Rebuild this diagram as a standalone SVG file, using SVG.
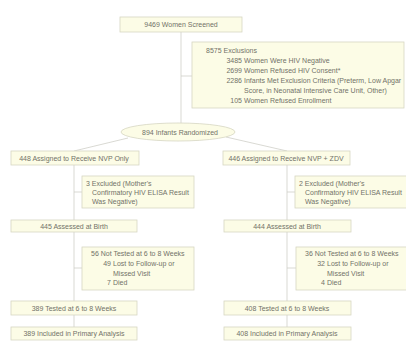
<svg xmlns="http://www.w3.org/2000/svg" width="406" height="341" viewBox="0 0 406 341">
<style>
.box{fill:#fcfce6;stroke:#d6d6c2;stroke-width:0.8}
.ln{stroke:#cfcfc8;stroke-width:0.8;fill:none}
text{font-family:"Liberation Sans",Arial,sans-serif;font-size:7px;fill:#727268}
.c{text-anchor:middle}
.e{text-anchor:end}
</style>
<rect width="406" height="341" fill="#ffffff"/>
<g id="connectors">
<line class="ln" x1="181" y1="32" x2="181" y2="123"/>
<line class="ln" x1="181" y1="76" x2="192" y2="76"/>
<line class="ln" x1="128" y1="138" x2="74" y2="151"/>
<line class="ln" x1="226" y1="137" x2="287" y2="151"/>
<line class="ln" x1="74" y1="165" x2="74" y2="220"/>
<line class="ln" x1="74" y1="192" x2="82" y2="192"/>
<line class="ln" x1="74" y1="232" x2="74" y2="301"/>
<line class="ln" x1="74" y1="268" x2="82" y2="268"/>
<line class="ln" x1="74" y1="315" x2="74" y2="327"/>
<line class="ln" x1="287" y1="165" x2="287" y2="220"/>
<line class="ln" x1="287" y1="192" x2="295" y2="192"/>
<line class="ln" x1="287" y1="232" x2="287" y2="301"/>
<line class="ln" x1="287" y1="268" x2="296" y2="268"/>
<line class="ln" x1="287" y1="315" x2="287" y2="327"/>
</g>
<g id="screened">
<rect class="box" x="120" y="17" width="122" height="15"/>
<text class="c" x="181" y="27">9469 Women Screened</text>
</g>
<g id="exclusions">
<rect class="box" x="192" y="42" width="212" height="66"/>
<text x="206" y="52.5">8575 Exclusions</text>
<text class="e" x="242" y="63">3485</text><text x="244" y="63">Women Were HIV Negative</text>
<text class="e" x="242" y="73">2699</text><text x="244" y="73">Women Refused HIV Consent*</text>
<text class="e" x="242" y="83">2286</text><text x="244" y="83">Infants Met Exclusion Criteria (Preterm, Low Apgar</text>
<text x="244" y="92.5">Score, in Neonatal Intensive Care Unit, Other)</text>
<text class="e" x="242" y="102.5">105</text><text x="244" y="102.5">Women Refused Enrollment</text>
</g>
<g id="randomized">
<ellipse class="box" cx="178" cy="132" rx="57" ry="9"/>
<text class="c" x="180" y="134.5">894 Infants Randomized</text>
</g>
<g id="nvp-assigned">
<rect class="box" x="11" y="151" width="128" height="14"/>
<text class="c" x="74" y="160.5">448 Assigned to Receive NVP Only</text>
</g>
<g id="zdv-assigned">
<rect class="box" x="223" y="151" width="127" height="14"/>
<text class="c" x="286" y="160.5">446 Assigned to Receive NVP + ZDV</text>
</g>
<g id="nvp-excluded">
<rect class="box" x="82" y="176" width="112" height="32"/>
<text x="86" y="186">3 Excluded (Mother's</text>
<text x="92" y="195">Confirmatory HIV ELISA Result</text>
<text x="92" y="204">Was Negative)</text>
</g>
<g id="zdv-excluded">
<rect class="box" x="295" y="176" width="112" height="32"/>
<text x="299" y="186">2 Excluded (Mother's</text>
<text x="305" y="195">Confirmatory HIV ELISA Result</text>
<text x="305" y="204">Was Negative)</text>
</g>
<g id="nvp-birth">
<rect class="box" x="11" y="220" width="126" height="12"/>
<text class="c" x="74" y="228.5">445 Assessed at Birth</text>
</g>
<g id="zdv-birth">
<rect class="box" x="224" y="220" width="127" height="12"/>
<text class="c" x="287" y="228.5">444 Assessed at Birth</text>
</g>
<g id="nvp-nottested">
<rect class="box" x="82" y="247" width="112" height="43"/>
<text x="91" y="255.5">56 Not Tested at 6 to 8 Weeks</text>
<text class="e" x="111" y="266">49</text><text x="113" y="266">Lost to Follow-up or</text>
<text x="113" y="275.5">Missed Visit</text>
<text class="e" x="111" y="285">7</text><text x="113" y="285">Died</text>
</g>
<g id="zdv-nottested">
<rect class="box" x="296" y="247" width="112" height="43"/>
<text x="305" y="255.5">36 Not Tested at 6 to 8 Weeks</text>
<text class="e" x="325" y="266">32</text><text x="327" y="266">Lost to Follow-up or</text>
<text x="327" y="275.5">Missed Visit</text>
<text class="e" x="325" y="285">4</text><text x="327" y="285">Died</text>
</g>
<g id="nvp-tested">
<rect class="box" x="11" y="301" width="126" height="14"/>
<text class="c" x="74" y="310.5">389 Tested at 6 to 8 Weeks</text>
</g>
<g id="zdv-tested">
<rect class="box" x="224" y="301" width="127" height="14"/>
<text class="c" x="287" y="310.5">408 Tested at 6 to 8 Weeks</text>
</g>
<g id="nvp-primary">
<rect class="box" x="11" y="327" width="126" height="13"/>
<text class="c" x="74" y="336">389 Included in Primary Analysis</text>
</g>
<g id="zdv-primary">
<rect class="box" x="224" y="327" width="127" height="13"/>
<text class="c" x="287" y="336">408 Included in Primary Analysis</text>
</g>
</svg>
